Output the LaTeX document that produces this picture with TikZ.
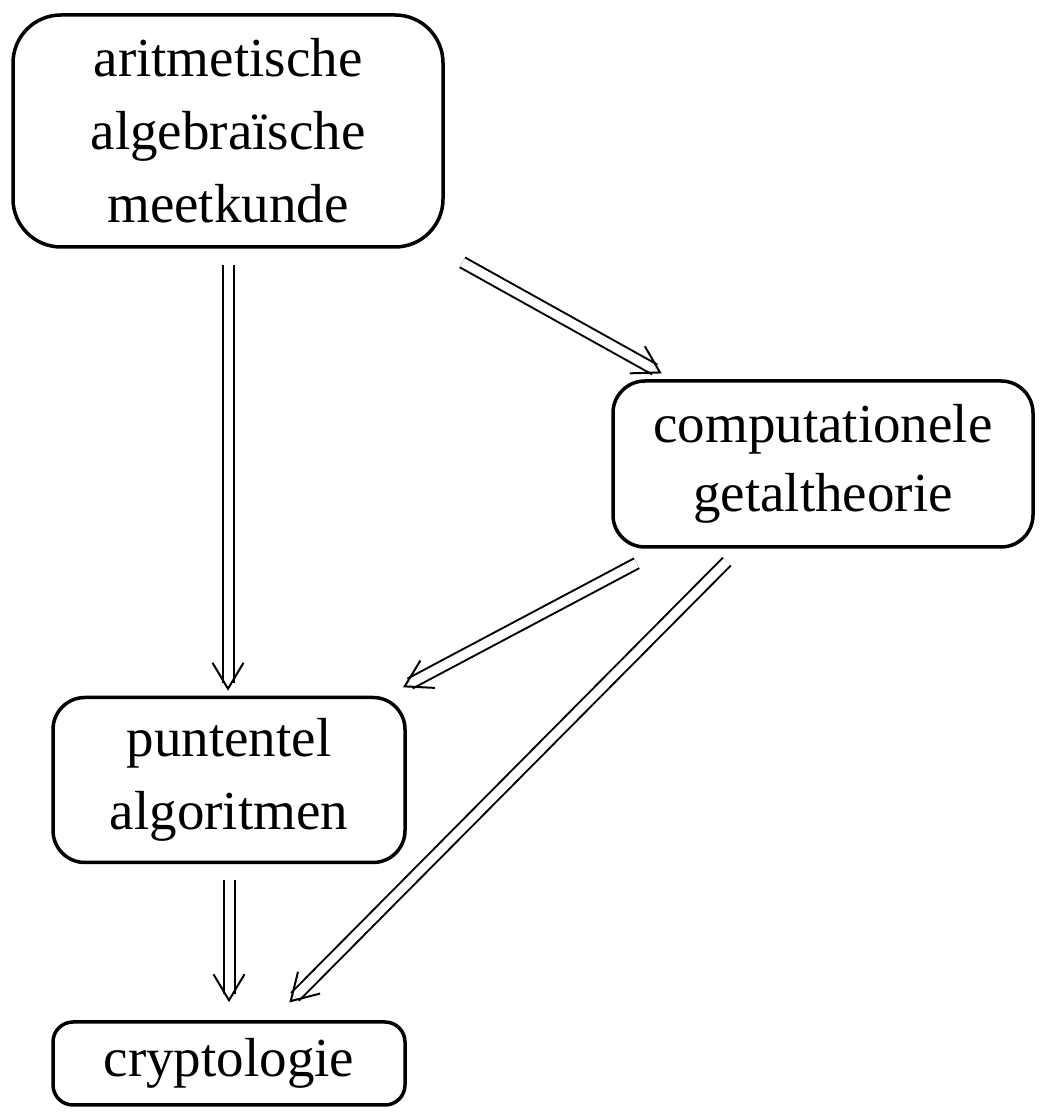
\documentclass[tikz,border=0pt]{standalone}
\usepackage{fontspec}
\setmainfont{Liberation Serif}
\usetikzlibrary{arrows.meta,calc}
\newcommand\myconn[5]{%
  \path (#1) -- (#2) coordinate[pos=0] (#3s) coordinate[pos=1] (#3e);
  \draw[dblline] ($(#3s)!#4!(#3e)$) -- ($(#3e)!#5+8pt!(#3s)$);
  \draw[headtip] ($(#3e)!#5+2pt!(#3s)$) -- ($(#3e)!#5!(#3s)$);
}
\begin{document}
\begin{tikzpicture}[x=1pt,y=1pt,
  box/.style={draw, line width=3.5pt, align=center, inner sep=0pt,
    font=\fontsize{55}{73}\selectfont},
  dblline/.style={double, line width=2pt, double distance=9pt},
  headtip/.style={line width=2pt, -{Straight Barb[length=26pt,width=31pt]}}]
\useasboundingbox (0,0) rectangle (1041,1115);
\node[box, rounded corners=48pt, minimum width=430pt, minimum height=232pt] (b1) at (228,984) {aritmetische\\algebraïsche\\meetkunde};
\node[box, rounded corners=32pt, minimum width=420pt, minimum height=166pt, font=\fontsize{55}{69}\selectfont] (b2) at (823,651) {computationele\\getaltheorie};
\node[box, rounded corners=32pt, minimum width=352pt, minimum height=165pt] (b3) at (229,335) {puntentel\\algoritmen};
\node[box, rounded corners=20pt, minimum width=352pt, minimum height=83pt] (b4) at (229,51.5) {cryptologie};
\myconn{b1.south}{b1.south |- b3.north}{ca}{16pt}{5pt}
\myconn{b1}{b2}{cb}{28pt}{12pt}
\myconn{b2}{b3}{cc}{31pt}{18pt}
\myconn{b2}{b4}{cd}{18pt}{25pt}
\myconn{b3.south}{b3.south |- b4.north}{ce}{16pt}{18pt}
\end{tikzpicture}
\end{document}
